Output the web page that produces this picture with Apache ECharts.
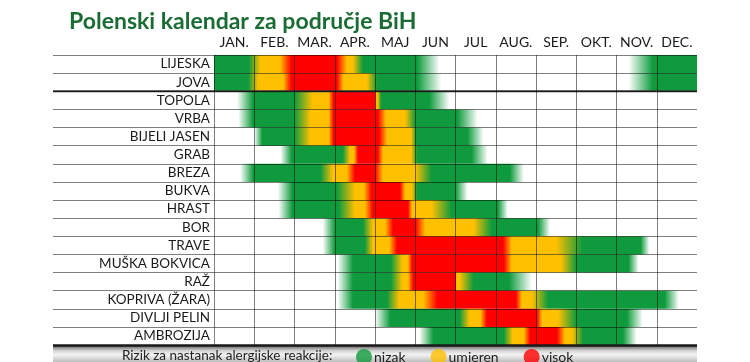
<!DOCTYPE html>
<html><head><meta charset="utf-8">
<script src="https://cdn.jsdelivr.net/npm/echarts@6/dist/echarts.min.js"></script>
<style>html,body{margin:0;padding:0;background:#fff}#c{width:750px;height:362px}</style>
</head><body><div id="c"></div>
<script>
// ---- data ----
const months = ['JAN.','FEB.','MAR.','APR.','MAJ','JUN','JUL','AUG.','SEP.','OKT.','NOV.','DEC.'];
const plants = ['LIJESKA','JOVA','TOPOLA','VRBA','BIJELI JASEN','GRAB','BREZA','BUKVA','HRAST','BOR','TRAVE','MUŠKA BOKVICA','RAŽ','KOPRIVA (ŽARA)','DIVLJI PELIN','AMBROZIJA'];
const levels = ['nizak','umjeren','visok']; // 1,2,3 ; 0 = no pollen
// stops: [month position (0 = start of January), risk level]
const lijeska = [[0,1],[0.87,1],[1.15,2],[1.64,2],[1.92,3],[3.05,3],[3.3,2],[3.45,2],[3.7,1],[5.05,1],[5.6,0],[10.3,0],[10.9,1],[12,1]];
const jova    = [[0,1],[0.85,1],[1.1,2],[1.72,2],[1.92,3],[3.05,3],[3.22,2],[3.8,2],[4.05,1],[5.05,1],[5.65,0],[10.3,0],[10.9,1],[12,1]];
const topola  = [[0.57,0],[0.97,1],[2.0,1],[2.45,2],[2.85,2],[2.97,3],[4.0,3],[4.03,2],[4.07,2],[4.15,1],[5.35,1],[5.85,0]];
const vrba    = [[0.6,0],[0.97,1],[2.0,1],[2.4,2],[2.85,2],[2.97,3],[4.07,3],[4.27,2],[4.75,2],[5.0,1],[6.05,1],[6.55,0]];
const bijeliJasen = [[1.0,0],[1.2,1],[2.0,1],[2.4,2],[2.85,2],[2.97,3],[4.1,3],[4.3,2],[4.9,2],[5.02,1],[6.3,1],[6.7,0]];
const grab    = [[1.65,0],[1.93,1],[3.2,1],[3.38,2],[3.48,2],[3.58,3],[4.07,3],[4.2,2],[4.9,2],[5.05,1],[6.4,1],[6.8,0]];
const breza   = [[0.65,0],[0.98,1],[2.65,1],[2.95,2],[3.3,2],[3.5,3],[4.0,3],[4.2,2],[5.0,2],[5.4,1],[7.35,1],[7.7,0]];
const bukva   = [[1.58,0],[1.95,1],[3.05,1],[3.5,2],[3.72,2],[3.92,3],[4.62,3],[4.75,2],[4.92,2],[5.05,1],[6.0,1],[6.3,0]];
const hrast   = [[1.6,0],[1.95,1],[3.1,1],[3.5,2],[3.75,2],[3.95,3],[4.82,3],[4.92,2],[5.4,2],[5.9,1],[7.05,1],[7.3,0]];
const bor     = [[2.7,0],[3.0,1],[3.7,1],[3.95,2],[4.25,2],[4.45,3],[5.0,3],[5.25,2],[6.45,2],[6.9,1],[8.05,1],[8.35,0]];
const trave   = [[2.7,0],[3.0,1],[3.75,1],[3.95,2],[4.35,2],[4.55,3],[7.18,3],[7.4,2],[8.5,2],[9.15,1],[10.6,1],[10.82,0]];
const muskaBokvica = [[3.07,0],[3.45,1],[4.4,1],[4.68,2],[4.82,2],[4.92,3],[7.2,3],[7.4,2],[8.62,2],[9.0,1],[10.3,1],[10.55,0]];
const raz     = [[3.07,0],[3.45,1],[4.4,1],[4.68,2],[4.82,2],[4.95,3],[6.0,3],[6.02,2],[6.1,2],[6.45,1],[7.33,1],[7.9,0]];
const kopriva = [[3.07,0],[3.45,1],[4.3,1],[4.6,2],[5.2,2],[5.55,3],[7.5,3],[7.65,2],[7.9,2],[8.3,1],[11.2,1],[11.55,0]];
const divljiPelin = [[4.0,0],[4.38,1],[6.1,1],[6.35,2],[6.62,2],[6.78,3],[8.02,3],[8.15,2],[8.55,2],[9.0,1],[10.26,1],[10.65,0]];
const ambrozija = [[5.1,0],[5.45,1],[7.2,1],[7.42,2],[7.7,2],[7.85,3],[8.52,3],[8.72,2],[8.9,2],[9.17,1],[10.16,1],[10.5,0]];
const plantStops = [lijeska,jova,topola,vrba,bijeliJasen,grab,breza,bukva,hrast,bor,trave,muskaBokvica,raz,kopriva,divljiPelin,ambrozija];
const groupBreakAfter = 1; // thicker line after JOVA

// ---- styles ----
const levelColors = ['#0f9b3d','#ffc000','#ff0000'];
const noneColor = 'rgba(15,155,61,0)';
const lineColor = 'rgba(0,0,0,0.5)';
const labelAreaWidth = 161;
const FONT = 'Lato';

const chart = echarts.init(document.getElementById('c'), null, {renderer:'canvas'});

const barData = plantStops.map((s, i) => [s[0][0], i, s[s.length-1][0]]);

function renderItem(params, api) {
  const start = api.value(0), row = api.value(1), end = api.value(2);
  const p0 = api.coord([start, row]);
  const p1 = api.coord([end, row]);
  const h = api.size([0, 1])[1];
  const stops = plantStops[params.dataIndex];
  const span = end - start;
  const colorStops = stops.map(s => ({
    offset: Math.min(1, Math.max(0, (s[0] - start) / span)),
    color: s[1] === 0 ? noneColor : levelColors[s[1] - 1]
  }));
  const children = [{
    type: 'rect',
    shape: {x: p0[0], y: p0[1] - h / 2, width: p1[0] - p0[0], height: h},
    style: {fill: new echarts.graphic.LinearGradient(0, 0, 1, 0, colorStops)}
  }];
  if (row === groupBreakAfter) {
    const a = api.coord([0, row]);
    const b = api.coord([12, row]);
    children.push({
      type: 'line', z2: 100,
      shape: {x1: a[0] - labelAreaWidth, y1: a[1] + h / 2, x2: b[0], y2: a[1] + h / 2},
      style: {stroke: '#333', lineWidth: 2}
    });
  }
  return {type: 'group', children};
}

const option = {
  animation: false,
  backgroundColor: '#fff',
  textStyle: {fontFamily: FONT},
  title: [
    {text: 'Polenski kalendar za područje BiH', left: 64, top: 5,
     textStyle: {fontFamily: FONT, fontSize: 23, fontWeight: 'bold', color: '#1b6c34'}},
    {text: 'Rizik za nastanak alergijske reakcije:', left: 117, top: 344,
     textStyle: {fontFamily: FONT, fontSize: 13.5, fontWeight: 'normal', color: '#222'}}
  ],
  legend: {
    left: 351, top: 344, itemWidth: 16, itemHeight: 16, itemGap: 25, icon: 'circle',
    textStyle: {fontFamily: FONT, fontSize: 14, color: '#222', padding: [0,0,0,-3]},
    data: levels
  },
  grid: {left: 214, right: 53, top: 55, bottom: 17},
  xAxis: [
    {type: 'value', min: 0, max: 12, interval: 1, z: 10,
     axisLabel: {show: false}, axisTick: {show: false}, axisLine: {show: false},
     splitLine: {show: true, showMaxLine: false, lineStyle: {color: lineColor, width: 1}}},
    {type: 'category', data: months, position: 'top', boundaryGap: true,
     axisLine: {show: false}, axisTick: {show: false}, splitLine: {show: false},
     axisLabel: {interval: 0, margin: 6, fontFamily: FONT, fontSize: 14, color: '#1a1a1a'}}
  ],
  yAxis: {
    type: 'category', data: plants, inverse: true, z: 10,
    axisLine: {show: false},
    axisTick: {show: true, interval: 0, length: labelAreaWidth, lineStyle: {color: lineColor, width: 1}},
    splitLine: {show: true, interval: 0, lineStyle: {color: lineColor, width: 1}},
    axisLabel: {interval: 0, margin: 4, fontFamily: FONT, fontSize: 13.5, color: '#1a1a1a'}
  },
  graphic: [
    {type: 'rect', z: 1, shape: {x: 53, y: 346, width: 644, height: 16},
     style: {fill: new echarts.graphic.LinearGradient(0, 0, 0, 1, [
       {offset: 0, color: '#6a6a6a'}, {offset: 0.3, color: '#d6d6d6'},
       {offset: 0.55, color: '#f4f4f4'}, {offset: 1, color: '#bdbdbd'}])}},
    {type: 'line', z: 20, shape: {x1: 53, y1: 345.5, x2: 697, y2: 345.5},
     style: {stroke: '#1a1a1a', lineWidth: 2.5}}
  ],
  series: [
    {type: 'custom', name: 'pelud', renderItem, xAxisIndex: 0, yAxisIndex: 0,
     encode: {x: [0, 2], y: 1}, data: barData, z: 2, silent: true},
    {type: 'scatter', name: 'nizak', data: [], itemStyle: {color: levelColors[0]}},
    {type: 'scatter', name: 'umjeren', data: [], itemStyle: {color: levelColors[1]}},
    {type: 'scatter', name: 'visok', data: [], itemStyle: {color: levelColors[2]}}
  ]
};
chart.setOption(option);
</script></body></html>
